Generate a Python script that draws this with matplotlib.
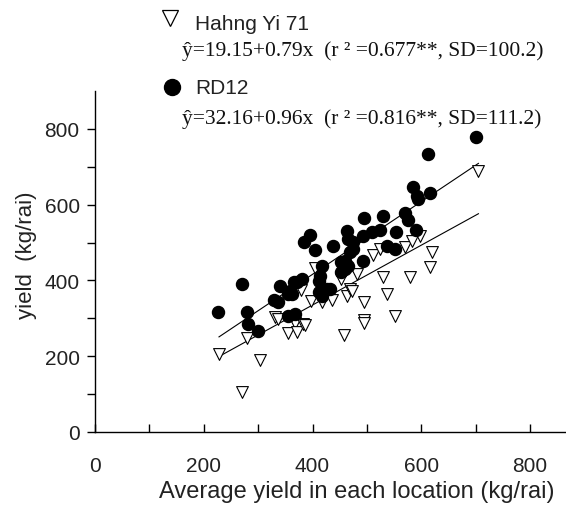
import matplotlib
matplotlib.use("Agg")
import matplotlib.pyplot as plt
import numpy as np

# ---- data ----
rd12_x = [227, 270, 280, 282, 300, 330, 337, 340, 355, 355, 358, 362, 365, 368, 371, 380,
          384, 395, 404, 411, 411, 414, 417, 417, 417, 426, 432, 438, 453, 453, 460, 460,
          464, 466, 466, 469, 475, 475, 492, 492, 494, 509, 524, 529, 536, 551, 553, 570,
          576, 584, 590, 592, 594, 613, 616, 701]
rd12_y = [318, 391, 316, 285, 267, 349, 342, 386, 307, 364, 373, 364, 395, 311, 395, 404,
          502, 520, 481, 399, 369, 413, 439, 377, 360, 377, 377, 492, 448, 421, 452, 430,
          530, 509, 439, 474, 501, 483, 516, 452, 564, 527, 533, 569, 492, 483, 529, 578,
          560, 646, 534, 622, 615, 735, 632, 778]

hy_x = [228, 270, 280, 303, 331, 337, 355, 368, 371, 378, 383, 386, 398, 404, 417, 435,
        453, 458, 463, 469, 472, 481, 494, 494, 494, 512, 524, 530, 537, 551, 570, 579,
        582, 597, 616, 619, 705]
hy_y = [206, 106, 247, 191, 303, 299, 260, 289, 263, 376, 285, 282, 346, 432, 342, 349,
        404, 256, 358, 377, 373, 417, 344, 296, 288, 467, 483, 408, 364, 305, 487, 408,
        505, 516, 435, 474, 690]

hy_a, hy_b = 19.15, 0.79
rd_a, rd_b = 32.16, 0.96
line_x = [228, 705]

x_ticks = [0, 200, 400, 600, 800]
y_ticks = [0, 200, 400, 600, 800]

# ---- figure ----
fig = plt.figure(figsize=(5.66, 5.06), dpi=100)
ax = fig.add_axes([95/566, 73/506, 1 - 95/566, 341/506])

sans = ['Liberation Sans', 'DejaVu Sans']
serif = ['Liberation Serif', 'DejaVu Serif']

lx = np.array(line_x, dtype=float)
ax.plot(lx, hy_a + hy_b*lx, color='black', lw=0.8, zorder=1)
ax.plot(lx, rd_a + rd_b*lx, color='black', lw=0.8, zorder=1)

ax.scatter(hy_x, hy_y, marker='v', s=72, facecolors='white', edgecolors='black',
           linewidths=0.8, zorder=2)
ax.scatter(rd12_x, rd12_y, marker='o', s=75, color='black', zorder=3)

ax.set_xlim(0, 866)
ax.set_ylim(0, 900)
ax.spines['top'].set_visible(False)
ax.spines['right'].set_visible(False)
ax.spines['left'].set_linewidth(1.0)
ax.spines['bottom'].set_linewidth(1.0)

ax.set_xticks(np.arange(0, 900, 100))
ax.set_xticklabels([str(v) if v in x_ticks else '' for v in range(0, 900, 100)])
ax.set_yticks(np.arange(0, 900, 100))
ax.set_yticklabels([str(v) if v in y_ticks else '' for v in range(0, 900, 100)])

ax.tick_params(axis='x', direction='in', length=6, width=1, pad=17, labelsize=15)
ax.tick_params(axis='y', direction='out', length=6, width=1, pad=5, labelsize=15)
for lab in ax.get_xticklabels() + ax.get_yticklabels():
    lab.set_fontfamily(sans)
    lab.set_color('#222222')

ax.set_xlabel('Average yield in each location (kg/rai)', fontsize=17,
              family=sans, color='#222222')
ax.xaxis.set_label_coords(0.556, -0.14)
ax.set_ylabel('yield  (kg/rai)', fontsize=16, family=sans, color='#222222')
ax.yaxis.set_label_coords(-0.124, 0.52)

# ---- legend-like annotation ----
fig.add_artist(plt.Line2D([170/566], [1 - 19/506], marker='v', markersize=12,
                          markerfacecolor='white', markeredgecolor='black',
                          markeredgewidth=0.9, linestyle='none', transform=fig.transFigure))
fig.add_artist(plt.Line2D([172/566], [1 - 88/506], marker='o', markersize=11.5,
                          color='black', linestyle='none', transform=fig.transFigure))

fig.text(195/566, 1 - 25/506, 'Hahng Yi 71', fontsize=15, family=sans,
         va='center', ha='left', color='#222222')
fig.text(195/566, 1 - 89/506, 'RD12', fontsize=15, family=sans,
         va='center', ha='left', color='#222222')

eq1 = '\u0177=19.15+0.79x  (r \u00b2 =0.677**, SD=100.2)'
eq2 = '\u0177=32.16+0.96x  (r \u00b2 =0.816**, SD=111.2)'
fig.text(182/566, 1 - 51/506, eq1, fontsize=15.5, family=serif,
         va='center', ha='left', color='#111111')
fig.text(182/566, 1 - 119/506, eq2, fontsize=15.5, family=serif,
         va='center', ha='left', color='#111111')

fig.savefig('out.png', dpi=100)
